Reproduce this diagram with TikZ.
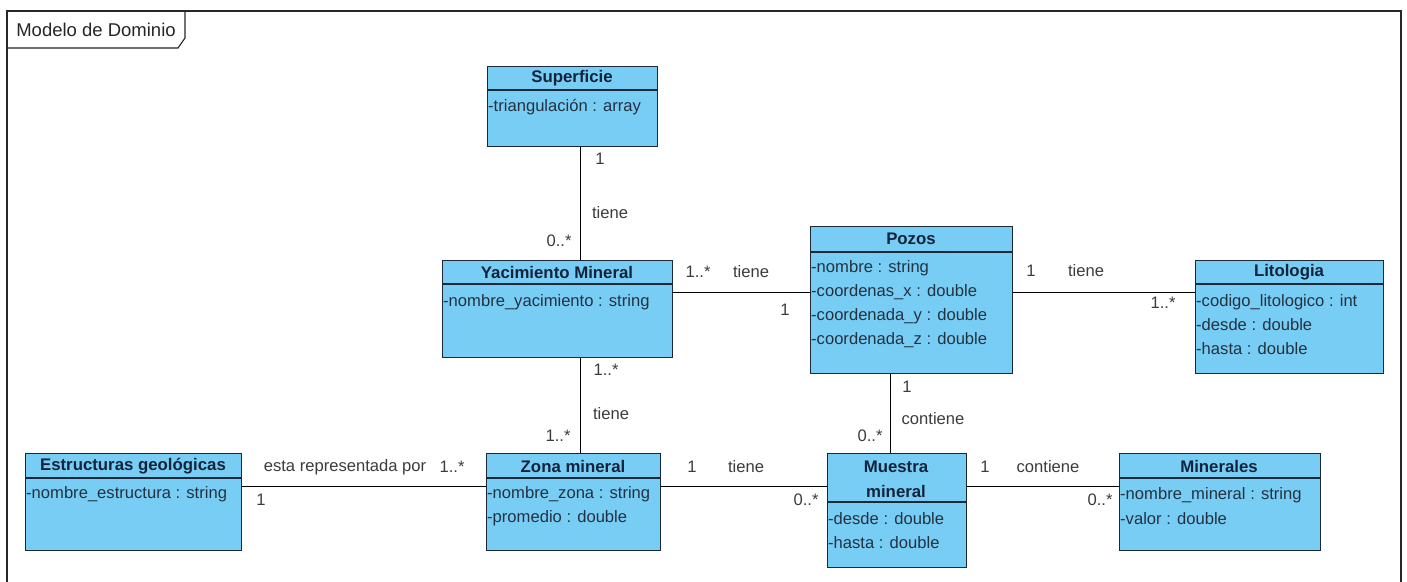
\documentclass[tikz,border=0pt]{standalone}
\usepackage{fontspec}
\setmainfont{Liberation Sans}
\definecolor{clsfill}{RGB}{120,205,244}
\definecolor{clsline}{RGB}{28,40,55}
\definecolor{hdtext}{RGB}{20,35,60}
\definecolor{attrtext}{RGB}{35,50,65}
\definecolor{lbltext}{RGB}{60,60,60}
\begin{document}
\begin{tikzpicture}[x=1pt,y=-1pt,
  clsbox/.style={draw=clsline, fill=clsfill, line width=1.2pt, inner sep=0pt, anchor=north west},
  sep/.style={draw=clsline, line width=1.1pt},
  hdr/.style={font=\fontsize{16.8}{20}\selectfont\bfseries, text=hdtext, inner sep=0pt},
  attr/.style={font=\fontsize{16.6}{20}\selectfont, text=attrtext, anchor=west, inner sep=0pt},
  lbl/.style={font=\fontsize{16.6}{20}\selectfont, text=lbltext, inner sep=0pt},
  assoc/.style={draw=black, line width=1pt}]
\useasboundingbox (0,0) rectangle (1407,581);
\clip (0,0) rectangle (1407,581);
\fill[white] (0,0) rectangle (1407,581);

% diagram frame with its name tab
\draw[line width=1.2pt, draw=black!85] (7,600) -- (7,11) -- (1401,11) -- (1401,600);
\draw[line width=1.1pt, draw=black!85] (7,48) -- (178,48) -- (185,38) -- (185,11);
\node[font=\fontsize{18.5}{20}\selectfont, text=black!85, inner sep=0pt] (frame) at (96,30) {Modelo de Dominio};

% classes
\node[clsbox, minimum width=170pt, minimum height=80pt] (sup) at (487,66) {};
\draw[sep] (sup.west |- 0,90) -- (sup.east |- 0,90);
\node[hdr] (supt) at (572,78) {Superficie};
\node[attr] (supa) at (488,107) {-triangulación : array};

\node[clsbox, minimum width=230pt, minimum height=97pt] (yac) at (442,260) {};
\draw[sep] (yac.west |- 0,284) -- (yac.east |- 0,284);
\node[hdr] (yact) at (557,272) {Yacimiento Mineral};
\node[attr] (yaca) at (443,302) {-nombre\_yacimiento : string};

\node[clsbox, minimum width=202pt, minimum height=147pt] (poz) at (810,226) {};
\draw[sep] (poz.west |- 0,252) -- (poz.east |- 0,252);
\node[hdr] (pozt) at (911,239) {Pozos};
\node[attr] (poza) at (811,268) {-nombre : string};
\node[attr] (pozb) at (811,292) {-coordenas\_x : double};
\node[attr] (pozc) at (811,316) {-coordenada\_y : double};
\node[attr] (pozd) at (811,340) {-coordenada\_z : double};

\node[clsbox, minimum width=188pt, minimum height=113pt] (lit) at (1195,260) {};
\draw[sep] (lit.west |- 0,284) -- (lit.east |- 0,284);
\node[hdr] (litt) at (1289,272) {Litologia};
\node[attr] (lita) at (1196,302) {-codigo\_litologico : int};
\node[attr] (litb) at (1196,325) {-desde : double};
\node[attr] (litc) at (1196,349) {-hasta : double};

\node[clsbox, minimum width=216pt, minimum height=97pt] (est) at (25,453) {};
\draw[sep] (est.west |- 0,478) -- (est.east |- 0,478);
\node[hdr] (estt) at (133,466) {Estructuras geológicas};
\node[attr] (esta) at (26,494) {-nombre\_estructura : string};

\node[clsbox, minimum width=174pt, minimum height=97pt] (zon) at (486,453) {};
\draw[sep] (zon.west |- 0,478) -- (zon.east |- 0,478);
\node[hdr] (zont) at (573,466) {Zona mineral};
\node[attr] (zona) at (487,494) {-nombre\_zona : string};
\node[attr] (zonb) at (487,518) {-promedio : double};

\node[clsbox, minimum width=139pt, minimum height=114pt] (mue) at (827,453) {};
\draw[sep] (mue.west |- 0,502) -- (mue.east |- 0,502);
\node[hdr, align=center, font=\fontsize{16.8}{25}\selectfont\bfseries] (muet) at (896,479) {Muestra\\mineral};
\node[attr] (muea) at (828,519) {-desde : double};
\node[attr] (mueb) at (828,543) {-hasta : double};

\node[clsbox, minimum width=201pt, minimum height=97pt] (min) at (1119,453) {};
\draw[sep] (min.west |- 0,478) -- (min.east |- 0,478);
\node[hdr] (mint) at (1219,466) {Minerales};
\node[attr] (mina) at (1120,495) {-nombre\_mineral : string};
\node[attr] (minb) at (1120,519) {-valor : double};

% line positions of the associations
\coordinate (xa) at (580,0);
\coordinate (xb) at (890,0);
\coordinate (ya) at (0,292);
\coordinate (yb) at (0,486);

% associations
\draw[assoc] (sup.south -| xa) -- (yac.north -| xa);
\node[lbl] (l1a) at (600,159) {1};
\node[lbl] (l1b) at (610,213) {tiene};
\node[lbl] (l1c) at (559,241) {0..*};

\draw[assoc] (yac.east |- ya) -- (poz.west |- ya);
\node[lbl] (l2a) at (698,272) {1..*};
\node[lbl] (l2b) at (751,272) {tiene};
\node[lbl] (l2c) at (785,310) {1};

\draw[assoc] (poz.east |- ya) -- (lit.west |- ya);
\node[lbl] (l3a) at (1031,271) {1};
\node[lbl] (l3b) at (1086,271) {tiene};
\node[lbl] (l3c) at (1163,303) {1..*};

\draw[assoc] (yac.south -| xa) -- (zon.north -| xa);
\node[lbl] (l4a) at (606,370) {1..*};
\node[lbl] (l4b) at (611,414) {tiene};
\node[lbl] (l4c) at (558,436) {1..*};

\draw[assoc] (poz.south -| xb) -- (mue.north -| xb);
\node[lbl] (l5a) at (907,387) {1};
\node[lbl] (l5b) at (933,419) {contiene};
\node[lbl] (l5c) at (870,436) {0..*};

\draw[assoc] (est.east |- yb) -- (zon.west |- yb);
\node[lbl] (l6a) at (345,467) {esta representada por};
\node[lbl] (l6b) at (452,467) {1..*};
\node[lbl] (l6c) at (261,500) {1};

\draw[assoc] (zon.east |- yb) -- (mue.west |- yb);
\node[lbl] (l7a) at (692,467) {1};
\node[lbl] (l7b) at (746,467) {tiene};
\node[lbl] (l7c) at (806,500) {0..*};

\draw[assoc] (mue.east |- yb) -- (min.west |- yb);
\node[lbl] (l8a) at (985,467) {1};
\node[lbl] (l8b) at (1048,467) {contiene};
\node[lbl] (l8c) at (1100,500) {0..*};
\end{tikzpicture}
\end{document}
